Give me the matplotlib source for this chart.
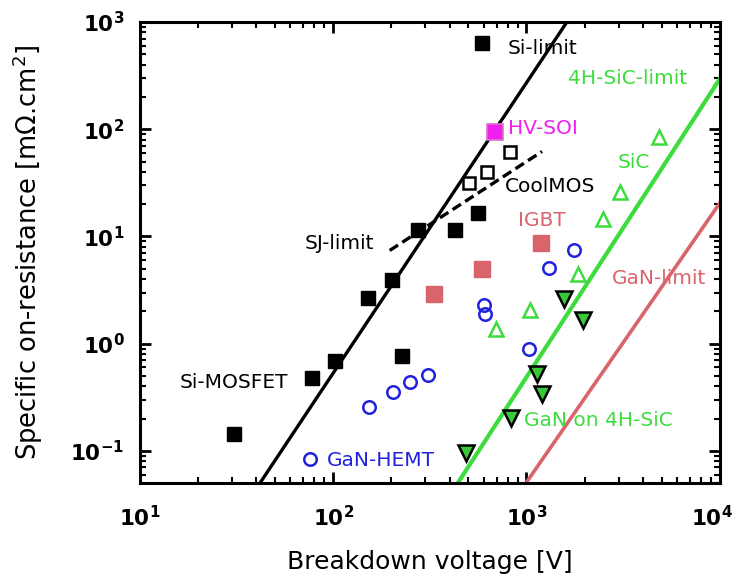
import math
import matplotlib
matplotlib.use("Agg")
import matplotlib.pyplot as plt
import matplotlib.transforms as mtransforms
from matplotlib.ticker import FuncFormatter, LogLocator

# ---- data ----
si_mosfet_v = [30.6, 77.6, 102, 226, 151, 201, 274, 427, 561, 588]
si_mosfet_r = [0.144, 0.48, 0.69, 0.76, 2.69, 3.96, 11.4, 11.4, 16.4, 637]

coolmos_v = [504, 624, 820]
coolmos_r = [31.3, 39.6, 61]

hvsoi_v = [687]
hvsoi_r = [94]

igbt_v = [332, 588, 1186]
igbt_r = [2.93, 5.0, 8.6]

gan_hemt_v = [75.7, 153, 204, 249, 309, 603, 609, 1028, 1306, 1758]
gan_hemt_r = [0.084, 0.258, 0.356, 0.44, 0.51, 2.31, 1.9, 0.9, 5.1, 7.4]

sic_v = [695, 1043, 1845, 2483, 3040, 4840]
sic_r = [1.38, 2.08, 4.5, 14.7, 25.8, 84]

gan_sic_v = [486, 830, 1132, 1204, 1561, 1958]
gan_sic_r = [0.096, 0.203, 0.525, 0.341, 2.63, 1.68]

# limit lines (end points)
si_lim_v, si_lim_r = [41.8, 1618], [0.05, 1000]
sic_lim_v, sic_lim_r = [441, 10000], [0.05, 295]
gan_lim_v, gan_lim_r = [993, 10000], [0.05, 20.5]
sj_lim_v, sj_lim_r = [196, 1203], [7.4, 62]

GREEN = "#3ddc3d"
PINK = "#d9646c"
BLUE = "#2222dd"
MAGENTA = "#f020f0"

plt.rcParams["font.family"] = "DejaVu Sans"

fig = plt.figure(figsize=(7.36, 5.8), dpi=100)
ax = fig.add_axes([0.190, 0.167, 0.788, 0.795])
ax.set_xscale("log")
ax.set_yscale("log")
ax.set_xlim(10, 1e4)
ax.set_ylim(0.05, 1000)

# lines
ax.plot(si_lim_v, si_lim_r, color="black", lw=2.4, zorder=2)
ax.plot(sic_lim_v, sic_lim_r, color=GREEN, lw=3.0, zorder=2)
ax.plot(gan_lim_v, gan_lim_r, color=PINK, lw=2.6, zorder=2)
ax.plot(sj_lim_v, sj_lim_r, color="black", lw=2.4, ls=(0, (3, 1.5)), zorder=2)

# points
ax.plot(si_mosfet_v, si_mosfet_r, "s", ms=10.5, color="black", zorder=3)
ax.plot(coolmos_v, coolmos_r, "s", ms=9, mfc="white", mec="black", mew=1.8, zorder=3)
ax.plot(hvsoi_v, hvsoi_r, "s", ms=12, mfc=MAGENTA, mec="#e070c0", mew=1.2, zorder=3)
ax.plot(igbt_v, igbt_r, "s", ms=11, color=PINK, zorder=3)
ax.plot(gan_hemt_v, gan_hemt_r, "o", ms=9, mfc="none", mec=BLUE, mew=1.8, zorder=3)
ax.plot(sic_v, sic_r, "^", ms=10, mfc="none", mec=GREEN, mew=1.8, zorder=3)
ax.plot(gan_sic_v, gan_sic_r, "v", ms=12, mfc="#38c838", mec="black", mew=1.8, zorder=3)

# labels
fs = 14.5
ax.text(802, 571, "Si-limit", fontsize=fs, color="black", va="center")
ax.text(1636, 300, "4H-SiC-limit", fontsize=fs, color=GREEN, va="center")
ax.text(802, 102, "HV-SOI", fontsize=fs, color=MAGENTA, va="center")
ax.text(2972, 49, "SiC", fontsize=fs, color=GREEN, va="center")
ax.text(773, 29.3, "CoolMOS", fontsize=fs, color="black", va="center")
ax.text(903, 14.1, "IGBT", fontsize=fs, color=PINK, va="center")
ax.text(71.5, 8.6, "SJ-limit", fontsize=fs, color="black", va="center")
ax.text(2767, 4.05, "GaN-limit", fontsize=fs, color=PINK, va="center")
ax.text(16.1, 0.433, "Si-MOSFET", fontsize=fs, color="black", va="center")
ax.text(970, 0.19, "GaN on 4H-SiC", fontsize=fs, color=GREEN, va="center")
ax.text(92.7, 0.081, "GaN-HEMT", fontsize=fs, color=BLUE, va="center")

# axes styling
for s in ax.spines.values():
    s.set_linewidth(2.2)
ax.xaxis.set_major_locator(LogLocator(base=10, numticks=10))
ax.yaxis.set_major_locator(LogLocator(base=10, numticks=10))
ax.xaxis.set_minor_locator(LogLocator(base=10, subs=range(2, 10), numticks=20))
ax.yaxis.set_minor_locator(LogLocator(base=10, subs=range(2, 10), numticks=20))
fmt = FuncFormatter(lambda v, p: r"$\mathbf{10^{%d}}$" % round(math.log10(v)))
ax.xaxis.set_major_formatter(fmt)
ax.yaxis.set_major_formatter(fmt)
ax.tick_params(which="both", direction="in", top=True, right=True)
ax.tick_params(which="major", length=8, width=2, labelsize=15.5)
ax.tick_params(axis="x", which="major", pad=16)
ax.tick_params(axis="y", which="major", pad=11)
ax.tick_params(which="minor", length=4, width=1.5)

ax.set_xlabel("Breakdown voltage [V]", fontsize=18, labelpad=14)
ax.set_ylabel(r"Specific on-resistance [m$\Omega$.cm$^2$]", fontsize=18.5, labelpad=18)

# nudge the last x tick label so it stays inside the figure
fig.canvas.draw()
for lbl in ax.get_xticklabels():
    if lbl.get_text() == r"$\mathbf{10^{4}}$":
        lbl.set_transform(lbl.get_transform() +
                          mtransforms.ScaledTranslation(-6 / 72, 0, fig.dpi_scale_trans))

fig.savefig("out.png", dpi=100)
